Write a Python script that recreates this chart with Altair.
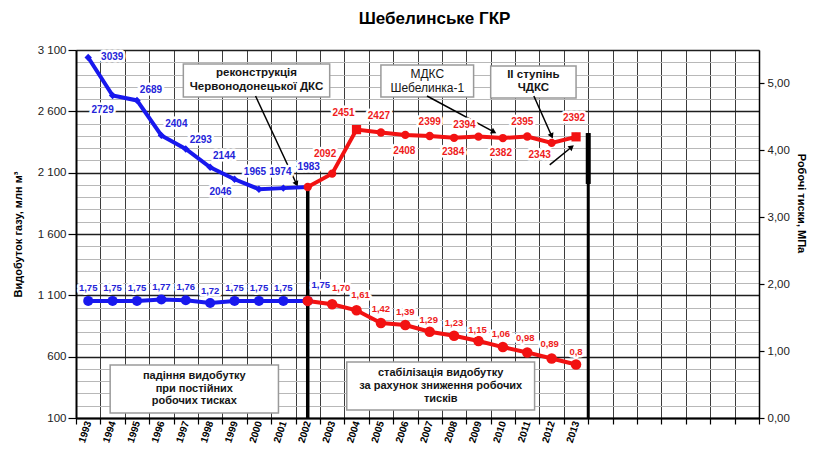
import math
import altair as alt
import pandas as pd

# ---------------- data ----------------
years_blue = [1993, 1994, 1995, 1996, 1997, 1998, 1999, 2000, 2001, 2002]
prod_blue = [3039, 2729, 2689, 2404, 2293, 2144, 2046, 1965, 1974, 1983]
press_blue = [1.75, 1.75, 1.75, 1.77, 1.76, 1.72, 1.75, 1.75, 1.75, 1.75]
press_blue_text = ["1,75", "1,75", "1,75", "1,77", "1,76", "1,72", "1,75", "1,75", "1,75", "1,75"]

years_red = [2002, 2003, 2004, 2005, 2006, 2007, 2008, 2009, 2010, 2011, 2012, 2013]
prod_red = [1983, 2092, 2451, 2427, 2408, 2399, 2384, 2394, 2382, 2395, 2343, 2392]
press_red = [1.75, 1.70, 1.61, 1.42, 1.39, 1.29, 1.23, 1.15, 1.06, 0.98, 0.89, 0.80]
press_red_text = ["1,75", "1,70", "1,61", "1,42", "1,39", "1,29", "1,23", "1,15", "1,06", "0,98", "0,89", "0,8"]

year_ticks = list(range(1993, 2014))
square_years = [2004, 2013]

# annotation boxes (data units: years / production)
box_x1 = [1996.9, 2005.0, 2009.5, 1993.9, 2003.6]
box_x2 = [2002.9, 2008.8, 2013.0, 2000.8, 2011.3]
box_y1 = [2717, 2717, 2709, 141, 165]
box_y2 = [2986, 2978, 2970, 532, 556]
box_text = [
    "реконструкція\nЧервонодонецької ДКС",
    "МДКС\nШебелинка-1",
    "ІІ ступінь\nЧДКС",
    "падіння видобутку\nпри постійних\nробочих тисках",
    "стабілізація видобутку\nза рахунок зниження робочих\nтисків",
]
box_weight = ["bold", "normal", "bold", "bold", "bold"]
box_size = [11.5, 12, 11.5, 11, 11]
box_lh = [14, 13.5, 13, 12.5, 13]

# arrows (data units)
arr_x1 = [1999.86, 2006.89, 2011.27, 2011.92]
arr_y1 = [2725, 2725, 2725, 2163]
arr_x2 = [2001.54, 2009.63, 2012.00, 2012.82]
arr_y2 = [2008, 2432, 2399, 2309]

# thick vertical marker lines
mark_x = [2002, 2013.5, 2013.5]
mark_y1 = [1983, 2423, 2423]
mark_y2 = [100, 100, 2008]
mark_w = [3.5, 3, 5]

# ---------------- layout ----------------
W, H = 683, 368
XMIN, XMAX = 1992.5, 2020.5
PMIN, PMAX = 100, 3100
RMIN, RMAX = 0.0, 5.5
PX_YEAR = W / (XMAX - XMIN)
PX_PROD = H / (PMAX - PMIN)
PX_PRESS = H / (RMAX - RMIN)

BLUE = "#1818ee"
RED = "#f21212"
BLUE_T = "#2424d8"
RED_T = "#ee1c1c"
FONT = "Liberation Sans"

# label pixel offsets (dx, dy)
prod_blue_off = [(24, 0), (-10, 14), (14, -10), (15, -11), (15, -9), (14, -11), (-14, 13), (-4, -17), (-3, -16), (1, -20)]
prod_red_off = [(-7, -20), (-13, -17), (-2, -17), (-1, 16), (0, -14), (-1, 14), (-14, -12), (-2, 15), (-5, -14), (-12, 12), (-2, -19)]
press_blue_off = [(0, -13)] * 5 + [(0, -12)] + [(0, -13)] * 3 + [(13, -16)]
press_red_off = [(9, -16), (4, -15), (0, -14), (0, -13), (-1, -12), (0, -13), (-1, -11), (-2, -13), (-2, -14), (-2, -14), (0, -12)]


def label_frame(years, values, texts, offsets, py):
    return pd.DataFrame({
        "year": [y + dx / PX_YEAR for y, (dx, dy) in zip(years, offsets)],
        "v": [v - dy / py for v, (dx, dy) in zip(values, offsets)],
        "t": texts,
    })


xs = alt.Scale(domain=[XMIN, XMAX], nice=False, zero=False)
ys_p = alt.Scale(domain=[PMIN, PMAX], nice=False, zero=False)
ys_r = alt.Scale(domain=[RMIN, RMAX], nice=False, zero=False)

x_grid_axis = alt.Axis(orient="bottom", values=[XMIN + i for i in range(29)], grid=True,
                       gridColor="#3c3c3c", gridWidth=1, labels=False, ticks=True,
                       tickColor="black", tickSize=6, tickWidth=1.2, domain=True,
                       domainColor="black", domainWidth=2, title=None)
x_label_axis = alt.Axis(orient="bottom", values=year_ticks, grid=False, ticks=False, domain=False,
                        labelAngle=-72, labelAlign="right", labelBaseline="middle", labelPadding=3,
                        labelFont="Liberation Sans Narrow, Liberation Sans", labelFontWeight="bold",
                        labelFontSize=10, labelColor="black", labelFlush=False, labelOverlap=False,
                        format="d", title=None)
y_minor_axis = alt.Axis(orient="left", values=list(range(100, 3101, 100)), grid=True,
                        gridColor="#b8b8b8", gridWidth=1, labels=False, ticks=False, domain=False,
                        title=None)
y_major_axis = alt.Axis(orient="left", values=list(range(100, 3101, 500)), grid=True,
                        gridColor="#1e1e1e", gridWidth=1.4,
                        labelExpr="replace(format(datum.value, ','), ',', ' ')",
                        labelFont=FONT, labelFontSize=11.5, labelColor="#222222", labelPadding=2,
                        ticks=True, tickSize=8, tickColor="black", tickWidth=1.2,
                        domain=True, domainColor="black", domainWidth=2,
                        title="Видобуток   газу, млн  м³", titleFont=FONT, titleFontSize=11,
                        titleFontWeight="bold", titleColor="black", titleAngle=-90,
                        titleX=-58, titleY=H / 2, titleBaseline="middle", titleAlign="center")
y_right_axis = alt.Axis(orient="right", values=[0, 1, 2, 3, 4, 5],
                        labelExpr="replace(format(datum.value, '.2f'), '.', ',')",
                        grid=False, ticks=True, tickSize=5, tickColor="black", tickWidth=1.2,
                        domain=True, domainColor="black", domainWidth=1.5,
                        labelFont=FONT, labelFontSize=11.5, labelColor="#222222", labelPadding=3,
                        title="Робочі тиски, МПа", titleFont=FONT, titleFontSize=11,
                        titleFontWeight="bold", titleColor="black", titleAngle=90,
                        titleX=41, titleY=153, titleBaseline="middle", titleAlign="center")


def X(field="year", axis=None):
    return alt.X(f"{field}:Q", scale=xs, axis=axis)


def YP(field="v", axis=None):
    return alt.Y(f"{field}:Q", scale=ys_p, axis=axis)


def YR(field="v", axis=None):
    return alt.Y(f"{field}:Q", scale=ys_r, axis=axis)


# ---------------- frames ----------------
prod_blue_df = pd.DataFrame({"year": years_blue, "v": prod_blue})
prod_red_df = pd.DataFrame({"year": years_red, "v": prod_red})
press_blue_df = pd.DataFrame({"year": years_blue, "v": press_blue})
press_red_df = pd.DataFrame({"year": years_red, "v": press_red})

prod_blue_lab = label_frame(years_blue, prod_blue, [str(v) for v in prod_blue], prod_blue_off, PX_PROD)
prod_red_lab = label_frame(years_red[1:], prod_red[1:], [str(v) for v in prod_red[1:]], prod_red_off, PX_PROD)
press_blue_lab = label_frame(years_blue, press_blue, press_blue_text, press_blue_off, PX_PRESS)
press_red_lab = label_frame(years_red[1:], press_red[1:], press_red_text[1:], press_red_off, PX_PRESS)

boxes_df = pd.DataFrame({"x1": box_x1, "x2": box_x2, "y1": box_y1, "y2": box_y2,
                         "xc": [(a + b) / 2 for a, b in zip(box_x1, box_x2)],
                         "yc": [(a + b) / 2 for a, b in zip(box_y1, box_y2)],
                         "t": box_text})


def head_angle(x1, y1, x2, y2):
    dx = (x2 - x1) * PX_YEAR
    dy = -(y2 - y1) * PX_PROD
    return math.degrees(math.atan2(dx, -dy)) % 360


arrows_df = pd.DataFrame({"x1": arr_x1, "y1": arr_y1, "x2": arr_x2, "y2": arr_y2,
                          "ang": [head_angle(a, b, c, d) for a, b, c, d in zip(arr_x1, arr_y1, arr_x2, arr_y2)]})
marks_df = pd.DataFrame({"x": mark_x, "y1": mark_y1, "y2": mark_y2, "w": mark_w})

# ---------------- production layers ----------------
boxes = alt.Chart(boxes_df).mark_rect(fill="white", stroke="#9a9a9a", strokeWidth=1.5).encode(
    x=X("x1", x_grid_axis), x2="x2:Q", y=YP("y1", y_minor_axis), y2="y2:Q")

box_texts = []
for i in range(len(box_text)):
    n_lines = box_text[i].count("\n") + 1
    box_texts.append(
        alt.Chart(boxes_df.iloc[[i]]).mark_text(
            lineBreak="\n", font=FONT, fontWeight=box_weight[i], fontSize=box_size[i],
            lineHeight=box_lh[i], align="center", baseline="middle", color="#151515",
            dy=-(n_lines - 1) * box_lh[i] / 2
        ).encode(x=X("xc"), y=YP("yc"), text="t:N"))

rules = []
for i in range(len(mark_x)):
    rules.append(alt.Chart(marks_df.iloc[[i]]).mark_rule(color="black", strokeWidth=mark_w[i]).encode(
        x=X("x"), y=YP("y1"), y2="y2:Q"))

arrow_lines = alt.Chart(arrows_df).mark_rule(color="black", strokeWidth=1.5).encode(
    x=X("x1"), x2="x2:Q", y=YP("y1"), y2="y2:Q")
arrow_heads = alt.Chart(arrows_df).mark_point(shape="triangle-up", filled=True, size=40,
                                               color="black", opacity=1).encode(
    x=X("x2"), y=YP("y2"), angle=alt.Angle("ang:Q", scale=None))

blue_prod_line = alt.Chart(prod_blue_df).mark_line(color=BLUE, strokeWidth=4).encode(
    x=X("year", x_label_axis), y=YP("v", y_major_axis))
blue_prod_pts = alt.Chart(prod_blue_df).mark_point(shape="diamond", filled=True, size=55,
                                                   color=BLUE, opacity=1).encode(x=X(), y=YP())
red_prod_line = alt.Chart(prod_red_df).mark_line(color=RED, strokeWidth=4).encode(x=X(), y=YP())
red_prod_pts = alt.Chart(prod_red_df).mark_point(shape="circle", filled=True, size=70,
                                                 color=RED, opacity=1).encode(x=X(), y=YP())
red_prod_sq = alt.Chart(prod_red_df[prod_red_df["year"].isin(square_years)]).mark_point(
    shape="square", filled=True, size=85, color=RED, opacity=1).encode(x=X(), y=YP())


def labels(df, color, scale_fn, size):
    halo = alt.Chart(df).mark_text(font=FONT, fontWeight="bold", fontSize=size, fill="white",
                                   stroke="white", strokeWidth=5, strokeJoin="round",
                                   align="center", baseline="middle").encode(
        x=X(), y=scale_fn(), text="t:N")
    txt = alt.Chart(df).mark_text(font=FONT, fontWeight="bold", fontSize=size, color=color,
                                  align="center", baseline="middle").encode(
        x=X(), y=scale_fn(), text="t:N")
    return [halo, txt]


prod_group = alt.layer(
    boxes, *box_texts, *rules, arrow_lines, arrow_heads,
    blue_prod_line, red_prod_line, blue_prod_pts, red_prod_pts, red_prod_sq,
    *labels(prod_blue_lab, BLUE_T, YP, 10), *labels(prod_red_lab, RED_T, YP, 10),
).resolve_axis(x="independent", y="independent")

# ---------------- pressure layers ----------------
blue_press_line = alt.Chart(press_blue_df).mark_line(color=BLUE, strokeWidth=4).encode(
    x=X(), y=YR("v", y_right_axis))
red_press_line = alt.Chart(press_red_df).mark_line(color=RED, strokeWidth=4).encode(x=X(), y=YR())
blue_press_pts = alt.Chart(press_blue_df).mark_point(shape="circle", filled=True, size=100,
                                                     color=BLUE, opacity=1).encode(x=X(), y=YR())
red_press_pts = alt.Chart(press_red_df).mark_point(shape="circle", filled=True, size=110,
                                                   color=RED, opacity=1).encode(x=X(), y=YR())

press_group = alt.layer(
    blue_press_line, red_press_line, blue_press_pts, red_press_pts,
    *labels(press_blue_lab, BLUE_T, YR, 9.5), *labels(press_red_lab, RED_T, YR, 9.5),
).resolve_axis(y="independent")

chart = alt.layer(prod_group, press_group).resolve_scale(y="independent").properties(
    width=W, height=H,
    title=alt.TitleParams(text="Шебелинське ГКР", font=FONT, fontSize=17, fontWeight="bold",
                          color="black", anchor="middle", frame="group", dx=17, offset=16),
    autosize=alt.AutoSizeParams(type="none"),
    padding={"left": 68, "top": 42, "right": 48, "bottom": 32},
).configure_view(stroke=None)

chart.save("out.html", embed_options={"renderer": "svg", "actions": False})
